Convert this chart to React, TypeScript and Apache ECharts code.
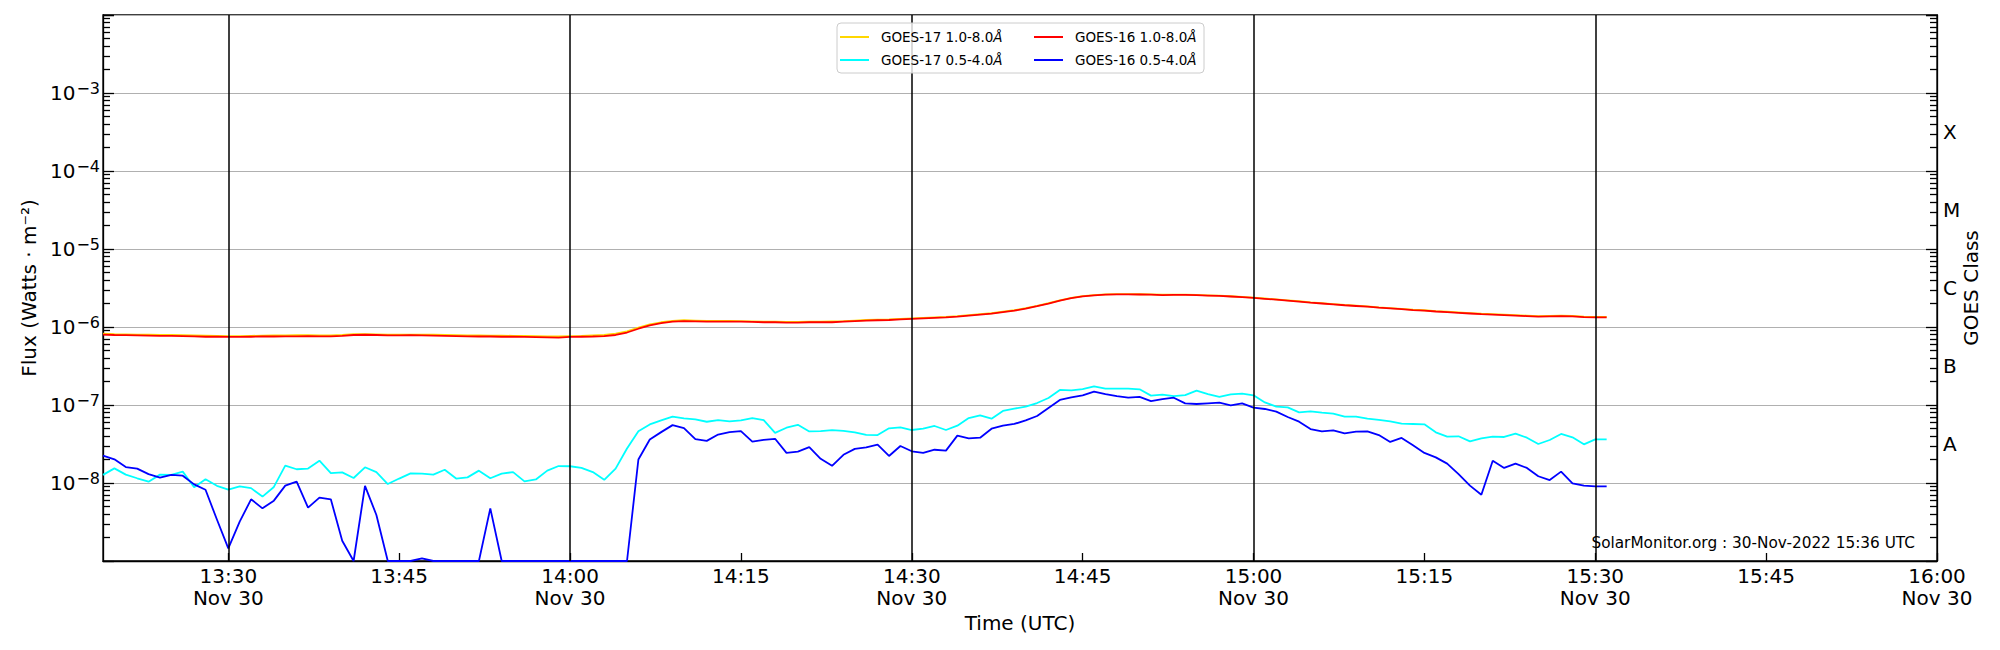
import React, { useEffect, useRef } from "react";
import * as echarts from "echarts";

const FONT = "DejaVu Sans";

// 1-minute samples starting 2022-11-30 13:19 UTC
const START_TIME = "13:19";
const AXIS_END = "16:00";

const goes17Long = [
  8.2e-7, 8.1e-7, 8.05e-7, 8.0e-7, 7.95e-7, 7.9e-7, 7.9e-7, 7.85e-7, 7.8e-7, 7.75e-7, 7.7e-7,
  7.65e-7, 7.65e-7, 7.7e-7, 7.75e-7, 7.8e-7, 7.8e-7, 7.85e-7, 7.85e-7, 7.8e-7, 7.8e-7, 7.9e-7,
  8.1e-7, 8.1e-7, 8.05e-7, 8.0e-7, 8.0e-7, 8.0e-7, 7.95e-7, 7.95e-7, 7.9e-7, 7.85e-7, 7.8e-7,
  7.8e-7, 7.75e-7, 7.75e-7, 7.7e-7, 7.7e-7, 7.65e-7, 7.6e-7, 7.55e-7, 7.65e-7, 7.7e-7, 7.8e-7,
  7.9e-7, 8.2e-7, 8.8e-7, 9.8e-7, 1.08e-6, 1.15e-6, 1.2e-6, 1.22e-6, 1.21e-6, 1.2e-6, 1.2e-6,
  1.2e-6, 1.19e-6, 1.18e-6, 1.17e-6, 1.17e-6, 1.16e-6, 1.16e-6, 1.17e-6, 1.17e-6, 1.18e-6, 1.19e-6,
  1.21e-6, 1.23e-6, 1.24e-6, 1.25e-6, 1.27e-6, 1.29e-6, 1.31e-6, 1.33e-6, 1.35e-6, 1.38e-6, 1.42e-6,
  1.46e-6, 1.5e-6, 1.57e-6, 1.64e-6, 1.74e-6, 1.87e-6, 2.02e-6, 2.2e-6, 2.37e-6, 2.49e-6, 2.57e-6,
  2.62e-6, 2.64e-6, 2.64e-6, 2.63e-6, 2.62e-6, 2.59e-6, 2.6e-6, 2.6e-6, 2.58e-6, 2.55e-6, 2.52e-6,
  2.48e-6, 2.44e-6, 2.38e-6, 2.32e-6, 2.26e-6, 2.2e-6, 2.14e-6, 2.07e-6, 2.02e-6, 1.97e-6, 1.92e-6,
  1.88e-6, 1.84e-6, 1.79e-6, 1.75e-6, 1.71e-6, 1.67e-6, 1.64e-6, 1.6e-6, 1.57e-6, 1.54e-6, 1.51e-6,
  1.48e-6, 1.46e-6, 1.44e-6, 1.42e-6, 1.4e-6, 1.38e-6, 1.39e-6, 1.4e-6, 1.39e-6, 1.36e-6, 1.35e-6,
  1.35e-6,
];

const goes17Short = [
  1.27e-8, 1.54e-8, 1.28e-8, 1.15e-8, 1.04e-8, 1.28e-8, 1.27e-8, 1.4e-8, 8.8e-9, 1.12e-8, 9.2e-9,
  8.2e-9, 9.06e-9, 8.6e-9, 6.7e-9, 8.9e-9, 1.67e-8, 1.5e-8, 1.53e-8, 1.93e-8, 1.34e-8, 1.37e-8,
  1.16e-8, 1.59e-8, 1.38e-8, 9.7e-9, 1.14e-8, 1.33e-8, 1.32e-8, 1.28e-8, 1.48e-8, 1.14e-8, 1.18e-8,
  1.44e-8, 1.15e-8, 1.32e-8, 1.38e-8, 1.05e-8, 1.11e-8, 1.44e-8, 1.65e-8, 1.64e-8, 1.56e-8, 1.38e-8,
  1.1e-8, 1.53e-8, 2.77e-8, 4.62e-8, 5.63e-8, 6.35e-8, 7.08e-8, 6.74e-8, 6.54e-8, 6.1e-8, 6.41e-8,
  6.16e-8, 6.35e-8, 6.81e-8, 6.41e-8, 4.4e-8, 5.11e-8, 5.58e-8, 4.58e-8, 4.62e-8, 4.77e-8, 4.67e-8,
  4.45e-8, 4.13e-8, 4.12e-8, 5.02e-8, 5.17e-8, 4.78e-8, 4.97e-8, 5.38e-8, 4.78e-8, 5.43e-8, 6.81e-8,
  7.37e-8, 6.68e-8, 8.38e-8, 8.97e-8, 9.52e-8, 1.06e-7, 1.23e-7, 1.56e-7, 1.54e-7, 1.6e-7, 1.73e-7,
  1.62e-7, 1.62e-7, 1.62e-7, 1.59e-7, 1.32e-7, 1.36e-7, 1.3e-7, 1.34e-7, 1.53e-7, 1.38e-7, 1.27e-7,
  1.37e-7, 1.4e-7, 1.33e-7, 1.08e-7, 9.52e-8, 9.33e-8, 8.05e-8, 8.29e-8, 7.97e-8, 7.74e-8, 7.08e-8,
  7.08e-8, 6.68e-8, 6.43e-8, 6.18e-8, 5.77e-8, 5.71e-8, 5.65e-8, 4.46e-8, 3.93e-8, 3.97e-8, 3.42e-8,
  3.74e-8, 3.93e-8, 3.89e-8, 4.29e-8, 3.81e-8, 3.16e-8, 3.56e-8, 4.25e-8, 3.85e-8, 3.13e-8, 3.63e-8,
  3.63e-8,
];

const goes16Long = [
  7.98e-7, 7.9e-7, 7.85e-7, 7.8e-7, 7.75e-7, 7.7e-7, 7.7e-7, 7.65e-7, 7.6e-7, 7.5e-7, 7.5e-7,
  7.45e-7, 7.45e-7, 7.5e-7, 7.55e-7, 7.55e-7, 7.6e-7, 7.6e-7, 7.65e-7, 7.6e-7, 7.6e-7, 7.7e-7,
  7.9e-7, 7.95e-7, 7.9e-7, 7.8e-7, 7.8e-7, 7.85e-7, 7.8e-7, 7.75e-7, 7.7e-7, 7.65e-7, 7.6e-7,
  7.55e-7, 7.55e-7, 7.5e-7, 7.5e-7, 7.45e-7, 7.4e-7, 7.35e-7, 7.3e-7, 7.45e-7, 7.5e-7, 7.55e-7,
  7.65e-7, 7.9e-7, 8.5e-7, 9.5e-7, 1.05e-6, 1.12e-6, 1.17e-6, 1.19e-6, 1.18e-6, 1.17e-6, 1.17e-6,
  1.17e-6, 1.17e-6, 1.16e-6, 1.15e-6, 1.15e-6, 1.14e-6, 1.14e-6, 1.15e-6, 1.15e-6, 1.15e-6, 1.17e-6,
  1.19e-6, 1.21e-6, 1.22e-6, 1.23e-6, 1.25e-6, 1.27e-6, 1.29e-6, 1.31e-6, 1.33e-6, 1.36e-6, 1.4e-6,
  1.44e-6, 1.48e-6, 1.55e-6, 1.62e-6, 1.72e-6, 1.85e-6, 2.0e-6, 2.18e-6, 2.35e-6, 2.47e-6, 2.55e-6,
  2.6e-6, 2.62e-6, 2.62e-6, 2.61e-6, 2.6e-6, 2.57e-6, 2.58e-6, 2.58e-6, 2.56e-6, 2.53e-6, 2.5e-6,
  2.46e-6, 2.42e-6, 2.36e-6, 2.3e-6, 2.24e-6, 2.18e-6, 2.12e-6, 2.05e-6, 2.0e-6, 1.95e-6, 1.9e-6,
  1.86e-6, 1.82e-6, 1.77e-6, 1.73e-6, 1.69e-6, 1.65e-6, 1.62e-6, 1.58e-6, 1.55e-6, 1.52e-6, 1.49e-6,
  1.46e-6, 1.44e-6, 1.42e-6, 1.4e-6, 1.38e-6, 1.36e-6, 1.37e-6, 1.38e-6, 1.37e-6, 1.34e-6, 1.33e-6,
  1.33e-6,
];

const goes16Short = [
  2.24e-8, 2.01e-8, 1.6e-8, 1.53e-8, 1.3e-8, 1.17e-8, 1.27e-8, 1.24e-8, 9.6e-9, 8.2e-9, 3.4e-9,
  1.45e-9, 3.19e-9, 6.18e-9, 4.73e-9, 5.94e-9, 9.25e-9, 1.04e-8, 4.83e-9, 6.49e-9, 6.18e-9, 1.82e-9,
  1.0e-9, 9.2e-9, 3.89e-9, 1.0e-9, 1.0e-9, 1.0e-9, 1.08e-9, 1.0e-9, 1.0e-9, 1.0e-9, 1.0e-9,
  1.0e-9, 4.73e-9, 1.0e-9, 1.0e-9, 1.0e-9, 1.0e-9, 1.0e-9, 1.0e-9, 1.0e-9, 1.0e-9, 1.0e-9,
  1.0e-9, 1.0e-9, 1.0e-9, 2.0e-8, 3.61e-8, 4.49e-8, 5.52e-8, 5.05e-8, 3.65e-8, 3.47e-8, 4.18e-8,
  4.49e-8, 4.63e-8, 3.4e-8, 3.58e-8, 3.69e-8, 2.43e-8, 2.53e-8, 2.88e-8, 2.04e-8, 1.66e-8, 2.3e-8,
  2.74e-8, 2.86e-8, 3.1e-8, 2.22e-8, 2.98e-8, 2.55e-8, 2.43e-8, 2.67e-8, 2.6e-8, 4.05e-8, 3.74e-8,
  3.81e-8, 4.97e-8, 5.43e-8, 5.71e-8, 6.35e-8, 7.22e-8, 9.16e-8, 1.16e-7, 1.25e-7, 1.33e-7, 1.48e-7,
  1.38e-7, 1.3e-7, 1.24e-7, 1.27e-7, 1.12e-7, 1.19e-7, 1.24e-7, 1.05e-7, 1.03e-7, 1.05e-7, 1.07e-7,
  9.9e-8, 1.05e-7, 9.24e-8, 8.89e-8, 8.22e-8, 7.02e-8, 6.11e-8, 4.92e-8, 4.59e-8, 4.73e-8, 4.33e-8,
  4.55e-8, 4.59e-8, 4.12e-8, 3.36e-8, 3.78e-8, 3.04e-8, 2.43e-8, 2.13e-8, 1.77e-8, 1.3e-8, 9.25e-9,
  7.08e-9, 1.93e-8, 1.56e-8, 1.77e-8, 1.56e-8, 1.22e-8, 1.09e-8, 1.4e-8, 9.9e-9, 9.25e-9, 9.06e-9,
  9.06e-9,
];

const xTickTimes = ["13:30", "13:45", "14:00", "14:15", "14:30", "14:45", "15:00", "15:15", "15:30", "15:45", "16:00"];
const vLineTimes = ["13:30", "14:00", "14:30", "15:00", "15:30"];
const dateLabel = "Nov 30";
const classLabels = ["X", "M", "C", "B", "A"];
const classExps = [-3.5, -4.5, -5.5, -6.5, -7.5];

const seriesNames = ["GOES-17 1.0-8.0Å", "GOES-17 0.5-4.0Å", "GOES-16 1.0-8.0Å", "GOES-16 0.5-4.0Å"];
const seriesColors = ["#FFD700", "#00FFFF", "#FF0000", "#0000FF"];

function toMs(hhmm: string) {
  const [h, m] = hhmm.split(":").map(Number);
  return Date.UTC(2022, 10, 30, h, m);
}
const pad = (n: number) => (n < 10 ? "0" + n : "" + n);

export default function App() {
  const ref = useRef<HTMLDivElement>(null);
  useEffect(() => {
    if (!ref.current) return;
    const chart = echarts.init(ref.current, undefined, { renderer: "svg" });
    const t0 = toMs(START_TIME);
    const times = goes16Short.map((_, i) => t0 + i * 60000);
    const seriesData = [goes17Long, goes17Short, goes16Long, goes16Short];
    const xTicks = xTickTimes.map(toMs);

    const minorVals: number[] = [];
    for (let e = -9; e < -2; e++) {
      for (let k = 2; k <= 9; k++) minorVals.push(k * Math.pow(10, e));
    }
    const classVals = classExps.map((e) => Math.pow(10, e));

    const axisLineStyle = { color: "#000", width: 1.3 };
    const textBase = { fontFamily: FONT, color: "#000" };

    const legendFormatter = (name: string) => `{n|${name.replace("Å", "")}}{a|Å}`;
    const legendRich = {
      n: { fontSize: 13.5, fontFamily: FONT, color: "#000" },
      a: { fontSize: 13.5, fontFamily: FONT, color: "#000", fontStyle: "italic" },
    };
    const legendCommon = {
      orient: "vertical",
      top: 30,
      icon: "rect",
      itemWidth: 29,
      itemHeight: 2,
      itemGap: 9,
      padding: 0,
      selectedMode: false,
      z: 20,
      formatter: legendFormatter,
      textStyle: { ...textBase, fontSize: 13.5, padding: [0, 0, 0, 7], rich: legendRich },
    };

    const logAxisBase = {
      type: "log",
      logBase: 10,
      min: 1e-9,
      max: 1e-2,
    };

    chart.setOption({
      animation: false,
      backgroundColor: "#fff",
      textStyle: { fontFamily: FONT },
      grid: {
        left: 103,
        right: 63,
        top: 15,
        bottom: 89,
        show: true,
        borderColor: "#000",
        borderWidth: 1.3,
        backgroundColor: "transparent",
      },
      legend: [
        { ...legendCommon, left: 840, data: [seriesNames[0], seriesNames[1]] },
        { ...legendCommon, left: 1034, data: [seriesNames[2], seriesNames[3]] },
      ],
      xAxis: {
        type: "value",
        min: t0,
        max: toMs(AXIS_END),
        axisLine: { show: true, lineStyle: axisLineStyle },
        axisTick: { show: true, inside: true, length: 8, customValues: xTicks, lineStyle: axisLineStyle },
        axisLabel: {
          customValues: xTicks,
          ...textBase,
          fontSize: 20,
          lineHeight: 22,
          margin: 4,
          formatter: (v: number) => {
            const d = new Date(v);
            const s = `${pad(d.getUTCHours())}:${pad(d.getUTCMinutes())}`;
            return d.getUTCMinutes() % 30 === 0 ? `${s}\n${dateLabel}` : s;
          },
        },
        splitLine: { show: false },
        name: "Time (UTC)",
        nameLocation: "middle",
        nameGap: 52,
        nameMoveOverlap: false,
        nameTextStyle: { ...textBase, fontSize: 20 },
      },
      yAxis: [
        {
          ...logAxisBase,
          position: "left",
          axisLine: { show: true, lineStyle: axisLineStyle },
          axisTick: { show: true, inside: true, length: 11, lineStyle: axisLineStyle },
          axisLabel: {
            margin: 3,
            formatter: (v: number) => {
              const e = Math.round(Math.log10(v));
              if (e <= -9 || e >= -2) return "";
              return `{b|10}{s|−${-e}}`;
            },
            rich: {
              b: { ...textBase, fontSize: 20, lineHeight: 26 },
              s: { ...textBase, fontSize: 16, lineHeight: 16, verticalAlign: "top", padding: [0, 0, 0, 1] },
            },
          },
          splitLine: { show: true, lineStyle: { color: "#b0b0b0", width: 1 } },
          name: "Flux (Watts · m⁻²)",
          nameLocation: "middle",
          nameRotate: 90,
          nameGap: 64,
          nameMoveOverlap: false,
          nameTextStyle: { ...textBase, fontSize: 20 },
        },
        {
          ...logAxisBase,
          position: "left",
          axisLine: { show: false },
          axisTick: { show: true, inside: true, length: 7, customValues: minorVals, lineStyle: axisLineStyle },
          axisLabel: { show: false },
          splitLine: { show: false },
        },
        {
          ...logAxisBase,
          position: "right",
          axisLine: { show: true, lineStyle: axisLineStyle },
          axisTick: { show: true, inside: true, length: 11, lineStyle: axisLineStyle },
          axisLabel: {
            customValues: classVals,
            ...textBase,
            fontSize: 20,
            margin: 6,
            formatter: (v: number) => {
              const e = Math.log10(v);
              let best = 0;
              classExps.forEach((c, i) => {
                if (Math.abs(c - e) < Math.abs(classExps[best] - e)) best = i;
              });
              return classLabels[best];
            },
          },
          splitLine: { show: false },
          name: "GOES Class",
          nameLocation: "middle",
          nameRotate: 90,
          nameGap: 24,
          nameMoveOverlap: false,
          nameTextStyle: { ...textBase, fontSize: 20 },
        },
        {
          ...logAxisBase,
          position: "right",
          axisLine: { show: false },
          axisTick: { show: true, inside: true, length: 7, customValues: minorVals, lineStyle: axisLineStyle },
          axisLabel: { show: false },
          splitLine: { show: false },
        },
      ],
      graphic: [
        {
          type: "rect",
          z: 10,
          silent: true,
          shape: { x: 837, y: 23, width: 367, height: 50, r: 4 },
          style: { fill: "rgba(255,255,255,0.8)", stroke: "#cccccc", lineWidth: 1 },
        },
        {
          type: "text",
          z: 10,
          silent: true,
          style: {
            text: "SolarMonitor.org : 30-Nov-2022 15:36 UTC",
            x: 1915,
            y: 543,
            align: "right",
            verticalAlign: "middle",
            fontSize: 15.3,
            fontFamily: FONT,
            fill: "#000",
          },
        },
      ],
      series: seriesData.map((vals, si) => ({
        name: seriesNames[si],
        type: "line",
        yAxisIndex: 0,
        symbol: "none",
        showSymbol: false,
        clip: true,
        color: seriesColors[si],
        lineStyle: { color: seriesColors[si], width: 1.8 },
        emphasis: { disabled: true },
        data: vals.map((v, i) => [times[i], v]),
        ...(si === 0
          ? {
              markLine: {
                silent: true,
                symbol: ["none", "none"],
                label: { show: false },
                emphasis: { disabled: true },
                lineStyle: { color: "#000", width: 1.5, type: "solid" },
                data: vLineTimes.map((t) => ({ xAxis: toMs(t) })),
              },
            }
          : {}),
      })),
    });
    return () => chart.dispose();
  }, []);
  return <div ref={ref} style={{ position: "fixed", left: 0, top: 0, width: 2000, height: 650 }} />;
}
